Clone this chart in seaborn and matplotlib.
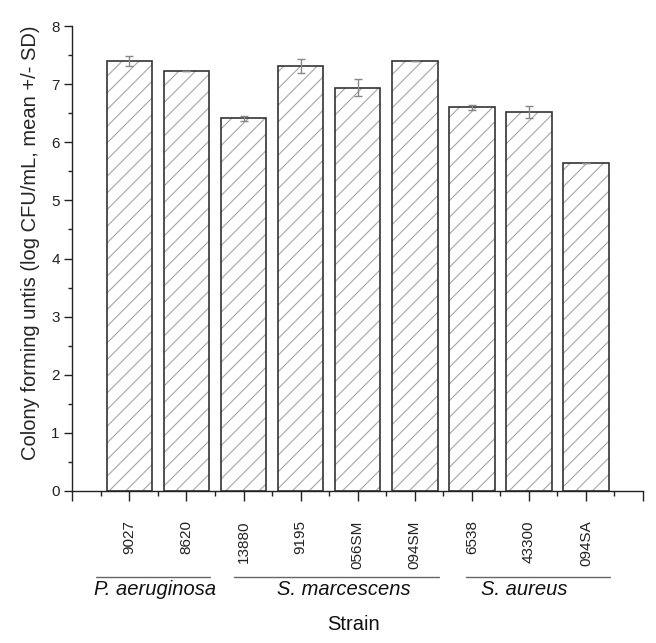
import pandas as pd
import matplotlib
matplotlib.use('Agg')
import matplotlib.pyplot as plt
import seaborn as sns
from matplotlib.patches import Rectangle
from matplotlib.ticker import MultipleLocator, FixedLocator

# data
strains = ['9027', '8620', '13880', '9195', '056SM', '094SM', '6538', '43300', '094SA']
cfu_mean = [7.40, 7.22, 6.41, 7.32, 6.94, 7.40, 6.60, 6.52, 5.65]
cfu_sd = [0.08, 0.0, 0.05, 0.12, 0.15, 0.0, 0.04, 0.11, 0.0]
species = ['P. aeruginosa', 'S. marcescens', 'S. aureus']
species_lines = [(-0.58, 1.42), (1.83, 5.42), (5.89, 8.42)]
species_text_x = [0.45, 3.75, 6.92]

df = pd.DataFrame({'strain': strains, 'cfu': cfu_mean, 'sd': cfu_sd})

sns.set_style('ticks')
plt.rcParams['font.family'] = ['Liberation Sans', 'DejaVu Sans']
plt.rcParams['hatch.linewidth'] = 0.8

fig = plt.figure(figsize=(6.56, 6.43), dpi=100)
ax = fig.add_axes([72.3 / 656, 1 - 491 / 643, 570.7 / 656, 465 / 643])

sns.barplot(data=df, x='strain', y='cfu', color='white', edgecolor='#a6a6a6',
            linewidth=0, width=0.8, errorbar=None, ax=ax)
# hatch takes the (light) edge colour; the dark outline is drawn on top
for p in list(ax.patches):
    p.set_hatch('//')
    p.set_facecolor('white')
    ax.add_patch(Rectangle(p.get_xy(), p.get_width(), p.get_height(),
                           fill=False, edgecolor='#333333', linewidth=1.2))

ax.errorbar(range(len(strains)), df['cfu'], yerr=df['sd'], fmt='none',
            ecolor='#888888', elinewidth=1.0, capsize=3, capthick=1.0)

ax.set_xlim(-1, 9)
ax.set_ylim(0, 8)
ax.yaxis.set_major_locator(MultipleLocator(1))
ax.yaxis.set_minor_locator(MultipleLocator(0.5))
ax.set_xticks(range(-1, len(strains) + 1))
ax.set_xticklabels([''] + strains + [''], rotation=90, va='top')
ax.xaxis.set_minor_locator(FixedLocator([i - 0.5 for i in range(len(strains) + 1)]))
ax.tick_params(axis='y', which='major', length=6, width=1, labelsize=11,
               direction='out', pad=3, colors='#222222')
ax.tick_params(axis='y', which='minor', length=3, width=1, direction='out', color='#222222')
ax.tick_params(axis='x', which='major', length=7, width=1, direction='out',
               labelsize=11, pad=14, bottom=True, colors='#222222')
ax.tick_params(axis='x', which='minor', length=3.5, width=1, direction='out',
               bottom=True, color='#222222')
sns.despine(ax=ax)
ax.spines['left'].set_linewidth(1)
ax.spines['bottom'].set_linewidth(1)
ax.spines['left'].set_color('#222222')
ax.spines['bottom'].set_color('#222222')

ax.set_xlabel('')
ax.set_ylabel('Colony forming untis (log CFU/mL, mean +/- SD)', fontsize=14.5)
ax.yaxis.set_label_coords(-0.057, 0.534)

# species group lines and labels below tick labels
for name, (a, b), tx in zip(species, species_lines, species_text_x):
    ax.plot([a, b], [-1.48, -1.48], color='#666666', lw=1.0, clip_on=False)
    ax.text(tx, -1.69, name, ha='center', va='center', style='italic',
            fontsize=14.5, color='#111111')

fig.text(353 / 656, 1 - 625 / 643, 'Strain', ha='center', va='center',
         fontsize=14.5, color='#111111')

fig.savefig('out.png', dpi=100)
